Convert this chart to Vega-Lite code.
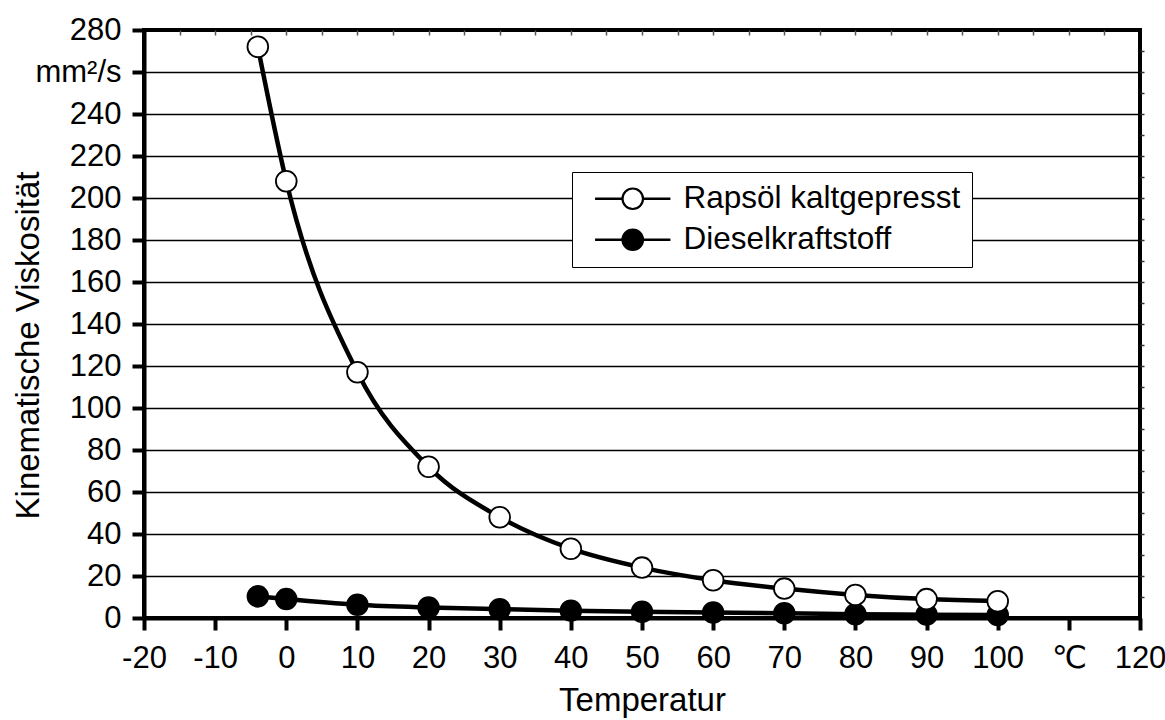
{
  "$schema": "https://vega.github.io/schema/vega-lite/v6.json",
  "width": 996,
  "height": 588,
  "autosize": "none",
  "padding": {"left": 144, "top": 30, "right": 25, "bottom": 102},
  "background": "white",
  "config": {
    "font": "Liberation Sans, DejaVu Sans",
    "view": {"stroke": "black", "strokeWidth": 4}
  },
  "data": {
    "values": [
      {"T": -4, "nu": 10.3, "series": "Dieselkraftstoff"},
      {"T": 0, "nu": 9, "series": "Dieselkraftstoff"},
      {"T": 10, "nu": 6.3, "series": "Dieselkraftstoff"},
      {"T": 20, "nu": 5, "series": "Dieselkraftstoff"},
      {"T": 30, "nu": 4.2, "series": "Dieselkraftstoff"},
      {"T": 40, "nu": 3.5, "series": "Dieselkraftstoff"},
      {"T": 50, "nu": 3, "series": "Dieselkraftstoff"},
      {"T": 60, "nu": 2.6, "series": "Dieselkraftstoff"},
      {"T": 70, "nu": 2.3, "series": "Dieselkraftstoff"},
      {"T": 80, "nu": 1.8, "series": "Dieselkraftstoff"},
      {"T": 90, "nu": 1.6, "series": "Dieselkraftstoff"},
      {"T": 100, "nu": 1.4, "series": "Dieselkraftstoff"},
      {"T": -4, "nu": 272, "series": "Rapsöl kaltgepresst"},
      {"T": 0, "nu": 208, "series": "Rapsöl kaltgepresst"},
      {"T": 10, "nu": 117, "series": "Rapsöl kaltgepresst"},
      {"T": 20, "nu": 72, "series": "Rapsöl kaltgepresst"},
      {"T": 30, "nu": 48, "series": "Rapsöl kaltgepresst"},
      {"T": 40, "nu": 33, "series": "Rapsöl kaltgepresst"},
      {"T": 50, "nu": 24, "series": "Rapsöl kaltgepresst"},
      {"T": 60, "nu": 18, "series": "Rapsöl kaltgepresst"},
      {"T": 70, "nu": 14, "series": "Rapsöl kaltgepresst"},
      {"T": 80, "nu": 11, "series": "Rapsöl kaltgepresst"},
      {"T": 90, "nu": 9, "series": "Rapsöl kaltgepresst"},
      {"T": 100, "nu": 8, "series": "Rapsöl kaltgepresst"}
    ]
  },
  "layer": [
    {
      "mark": {"type": "line", "color": "black", "strokeWidth": 4.5, "interpolate": "monotone"},
      "encoding": {
        "x": {
          "field": "T", "type": "quantitative",
          "scale": {"domain": [-20, 120], "nice": false, "zero": false},
          "axis": {
            "values": [-20, -10, 0, 10, 20, 30, 40, 50, 60, 70, 80, 90, 100, 110, 120],
            "labelExpr": "datum.value == 110 ? '℃' : '' + datum.value",
            "grid": false,
            "domainColor": "black", "domainWidth": 4,
            "tickColor": "black", "tickWidth": 4, "tickSize": 12,
            "labelPadding": 13, "labelFontSize": 31, "labelColor": "black",
            "labelFlush": false, "labelOverlap": false,
            "title": "Temperatur", "titleFontSize": 33, "titleFontWeight": "normal",
            "titleColor": "black", "titleBaseline": "alphabetic", "titleY": 92
          }
        },
        "y": {
          "field": "nu", "type": "quantitative",
          "scale": {"domain": [0, 280], "nice": false},
          "axis": {
            "values": [0, 20, 40, 60, 80, 100, 120, 140, 160, 180, 200, 220, 240, 260, 280],
            "labelExpr": "datum.value == 260 ? 'mm²/s' : '' + datum.value",
            "grid": true, "gridColor": "black", "gridWidth": 1.6, "gridOpacity": 1,
            "domainColor": "black", "domainWidth": 4,
            "tickColor": "black", "tickWidth": 4, "tickSize": 12,
            "labelPadding": 11, "labelFontSize": 31, "labelColor": "black",
            "labelFlush": false, "labelOverlap": false,
            "title": "Kinematische Viskosität", "titleFontSize": 33, "titleFontWeight": "normal",
            "titleColor": "black", "titleAngle": 270, "titleBaseline": "alphabetic",
            "titleAlign": "center", "titleX": -106, "titleY": 315
          }
        },
        "detail": {"field": "series"}
      }
    },
    {
      "mark": {"type": "point", "shape": "circle", "filled": true, "size": 430, "stroke": "black", "strokeWidth": 1.8, "opacity": 1},
      "encoding": {
        "x": {"field": "T", "type": "quantitative", "axis": null},
        "y": {"field": "nu", "type": "quantitative", "axis": null},
        "fill": {
          "field": "series", "type": "nominal",
          "scale": {"domain": ["Rapsöl kaltgepresst", "Dieselkraftstoff"], "range": ["white", "black"]},
          "legend": {
            "orient": "none", "legendX": 428, "legendY": 142,
            "title": null, "direction": "vertical",
            "symbolType": "M-3.57,-0.02 L-1,-0.02 L-1,0.02 L-3.57,0.02 Z M1,-0.02 L3.57,-0.02 L3.57,0.02 L1,0.02 Z M-1,0 C-1,-0.5523 -0.5523,-1 0,-1 C0.5523,-1 1,-0.5523 1,0 C1,0.5523 0.5523,1 0,1 C-0.5523,1 -1,0.5523 -1,0 Z",
            "symbolSize": 420, "symbolStrokeColor": "black", "symbolStrokeWidth": 2.2,
            "symbolOpacity": 1,
            "symbolOffset": 34, "labelOffset": 35,
            "labelExpr": "datum.label + '\u00a0\u00a0'",
            "labelFontSize": 31.5, "labelColor": "black", "labelLimit": 500,
            "rowPadding": 8, "padding": 11,
            "strokeColor": "black", "fillColor": "white", "cornerRadius": 0
          }
        }
      }
    },
    {
      "mark": {"type": "point", "opacity": 0},
      "encoding": {
        "x": {
          "field": "T", "type": "quantitative",
          "axis": {
            "orient": "top", "values": [-15, -10, -5, 0, 5, 10, 15, 20, 25, 30, 35, 40, 45, 50, 55, 60, 65, 70, 75, 80, 85, 90, 95, 100, 105, 110, 115],
            "labels": false, "domain": false, "grid": false, "title": null,
            "tickSize": -5, "tickColor": "#555", "tickWidth": 1.5
          }
        },
        "y": {
          "field": "nu", "type": "quantitative",
          "axis": {
            "orient": "right", "values": [10, 20, 30, 40, 50, 60, 70, 80, 90, 100, 110, 120, 130, 140, 150, 160, 170, 180, 190, 200, 210, 220, 230, 240, 250, 260, 270],
            "labels": false, "domain": false, "grid": false, "title": null,
            "tickSize": 4, "tickColor": "#333", "tickWidth": 1.5
          }
        }
      }
    }
  ],
  "resolve": {"axis": {"x": "independent", "y": "independent"}}
}
